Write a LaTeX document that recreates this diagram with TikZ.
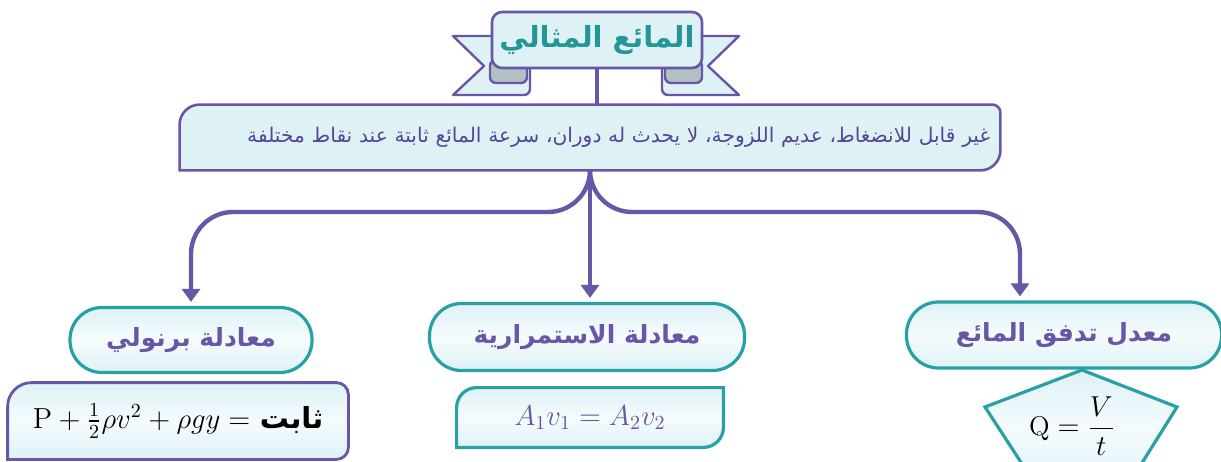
\documentclass[tikz,border=0pt]{standalone}
\usepackage{fontspec}
\usepackage{amsmath}
\usetikzlibrary{positioning,arrows.meta,backgrounds,calc}
\newfontfamily\arabicfont[Script=Arabic]{DejaVu Sans}
\TeXXeTstate=1
\newcommand{\arabictext}[1]{{\arabicfont\beginR #1\endR}}
\definecolor{mainpurple}{RGB}{104,86,166}
\definecolor{notepurple}{RGB}{84,70,150}
\definecolor{mainteal}{RGB}{40,160,166}
\definecolor{titleteal}{RGB}{36,150,150}
\definecolor{boxfill}{RGB}{222,242,246}
\definecolor{foldgray}{RGB}{178,192,196}

\begin{document}
\begin{tikzpicture}[x=0.5pt,y=-0.5pt,
    ribbon/.style={draw=mainpurple, line width=1.2pt, fill=boxfill, line join=round},
    fold/.style={draw=mainpurple, line width=1.2pt, fill=foldgray, rounded corners=3pt},
    heading/.style={draw=mainpurple, line width=1.3pt, fill=boxfill, rounded corners=5pt,
        text=titleteal, font=\arabicfont\bfseries\fontsize{14.5}{17}\selectfont,
        minimum width=105pt, minimum height=28pt, inner sep=2pt},
    note/.style={text=notepurple, font=\arabicfont\fontsize{10.1}{12}\selectfont,
        minimum width=410pt, minimum height=32.5pt, text width=400pt, align=right},
    notebox/.style={draw=mainpurple, line width=1.3pt, fill=boxfill},
    topic/.style={draw=mainteal, line width=1.6pt, rounded corners=16pt,
        top color=boxfill, bottom color=boxfill, middle color=boxfill!30!white,
        text=mainpurple, font=\arabicfont\bfseries\fontsize{12.5}{15}\selectfont,
        minimum width=121pt, minimum height=32.5pt},
    branch/.style={draw=mainpurple, line width=2.2pt, rounded corners=21pt,
        -{Triangle[length=6.5pt,width=9pt]}, shorten >=2pt},
    stem/.style={draw=mainpurple, line width=2pt},
    formula/.style={font=\fontsize{14.5}{16}\selectfont},
    purplebox/.style={draw=mainpurple, line width=1.4pt,
        top color=boxfill, bottom color=boxfill, middle color=boxfill!30!white},
    tealbox/.style={draw=mainteal, line width=1.6pt,
        top color=boxfill, bottom color=boxfill, middle color=boxfill!30!white},
]
    \useasboundingbox (0,0) rectangle (1221,461);

    % Title ribbon
    \draw[ribbon] (453,36) -- (530,36) [rounded corners=3pt] -- (530,95) [sharp corners] -- (453,95) -- (484,66) -- cycle;
    \draw[ribbon] (739,36) -- (662,36) [rounded corners=3pt] -- (662,95) [sharp corners] -- (739,95) -- (708,66) -- cycle;
    \draw[fold] (490,60) rectangle (527,83);
    \draw[fold] (665,60) rectangle (702,83);
    \node[heading] (title) at (597,40) {\arabictext{المائع المثالي}};

    % Properties
    \node[note] (desc) at (590,137.5) {\arabictext{غير قابل للانضغاط، عديم اللزوجة، لا يحدث له دوران، سرعة المائع ثابتة عند نقاط مختلفة}};
    \draw[stem] (title.south) -- (title.south |- desc.north);

    % Branches
    \node[topic] (bern) at (191,340) {\arabictext{معادلة برنولي}};
    \node[topic, minimum width=157.5pt, minimum height=33.5pt] (cont) at (587,337) {\arabictext{معادلة الاستمرارية}};
    \node[topic, minimum width=157.5pt, minimum height=33pt] (rate) at (1064,335) {\arabictext{معدل تدفق المائع}};
    \coordinate (split) at (590,212);
    \draw[branch] (desc.south) -- (split) -| (bern.north);
    \draw[branch] (desc.south) -- (desc.south |- cont.north);
    \draw[branch] (desc.south) -- (split) -| ([xshift=-22pt]rate.north);

    % Formulas
    \node[formula, minimum width=170pt, minimum height=38pt] (bernf) at (178,421)
        {$\mathrm{P}+\tfrac{1}{2}\rho v^{2}+\rho g y=$ {\arabicfont\bfseries\beginR ثابت\endR}};
    \node[formula, text=mainpurple, minimum width=133pt, minimum height=29.5pt] (contf) at (590,417.5)
        {$A_{1}v_{1}=A_{2}v_{2}$};
    \node[formula, font=\fontsize{13.5}{15}\selectfont] (ratef) at (1072,426) {$\mathrm{Q}=\dfrac{V}{t}$};

    \begin{scope}[on background layer]
        \path[notebox] (desc.south west) [rounded corners=10pt] -- (desc.north west) [rounded corners=4pt] -- (desc.north east) [rounded corners=10pt] -- (desc.south east) [sharp corners] -- cycle;
        \path[purplebox] (bernf.south west) [rounded corners=12pt] -- (bernf.north west) [rounded corners=6pt] -- (bernf.north east) -- (bernf.south east) [sharp corners] -- cycle;
        \path[tealbox] (contf.south west) [rounded corners=10pt] -- (contf.north west) [sharp corners] -- (contf.north east) [rounded corners=10pt] -- (contf.south east) [sharp corners] -- cycle;
        \path[tealbox] (1082,370) -- (1177,407) -- (1125,490) -- (1039,490) -- (985,407) -- cycle;
    \end{scope}
\end{tikzpicture}
\end{document}
